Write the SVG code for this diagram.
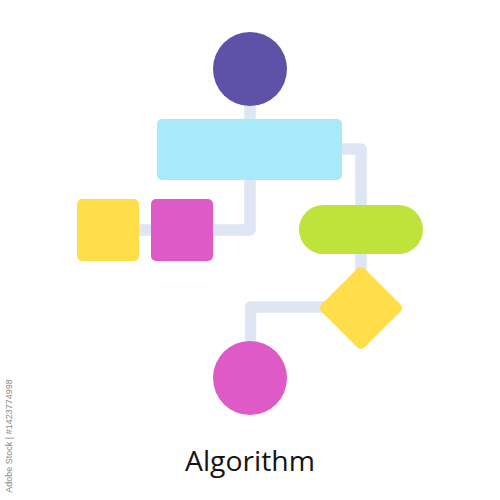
<svg xmlns="http://www.w3.org/2000/svg" width="500" height="500" viewBox="0 0 500 500">
  <style>
    .conn { fill: none; stroke: #DEE6F3; stroke-width: 11.5; stroke-linejoin: round; }
    .label { font-family: "Open Sans", "Liberation Sans", sans-serif; fill: #151515; }
  </style>
  <rect width="500" height="500" fill="#FFFFFF"/>
  <g id="connectors">
    <path class="conn" d="M250,100 V230 H135"/>
    <path class="conn" d="M338,149 H361 V330"/>
    <path class="conn" d="M345,307 H250.5 V350"/>
  </g>
  <g id="start">
    <circle cx="250" cy="69" r="37" fill="#5D52A8"/>
  </g>
  <g id="process">
    <rect x="157" y="119" width="185" height="61" rx="5" fill="#A8EAF9"/>
  </g>
  <g id="yellow-square">
    <rect x="77" y="199" width="62" height="62" rx="5" fill="#FFDE4A"/>
  </g>
  <g id="magenta-square">
    <rect x="151" y="199" width="62" height="62" rx="5" fill="#DE5BC7"/>
  </g>
  <g id="pill">
    <rect x="299" y="205" width="124" height="49" rx="24.5" fill="#BEE33A"/>
  </g>
  <g id="decision">
    <rect x="330.5" y="277.5" width="61" height="61" rx="5" fill="#FFDE4A" transform="rotate(45 361 308)"/>
  </g>
  <g id="end">
    <circle cx="250" cy="378" r="37" fill="#DE5BC7"/>
  </g>
  <text class="label" x="250" y="471" font-size="27" text-anchor="middle" textLength="130" lengthAdjust="spacingAndGlyphs">Algorithm</text>
  <text x="10" y="436" font-family="'Liberation Sans', sans-serif" font-size="9" fill="#8A8A8A" text-anchor="middle" transform="rotate(-90 10 436)" dominant-baseline="middle">Adobe Stock | #1423774998</text>
</svg>
